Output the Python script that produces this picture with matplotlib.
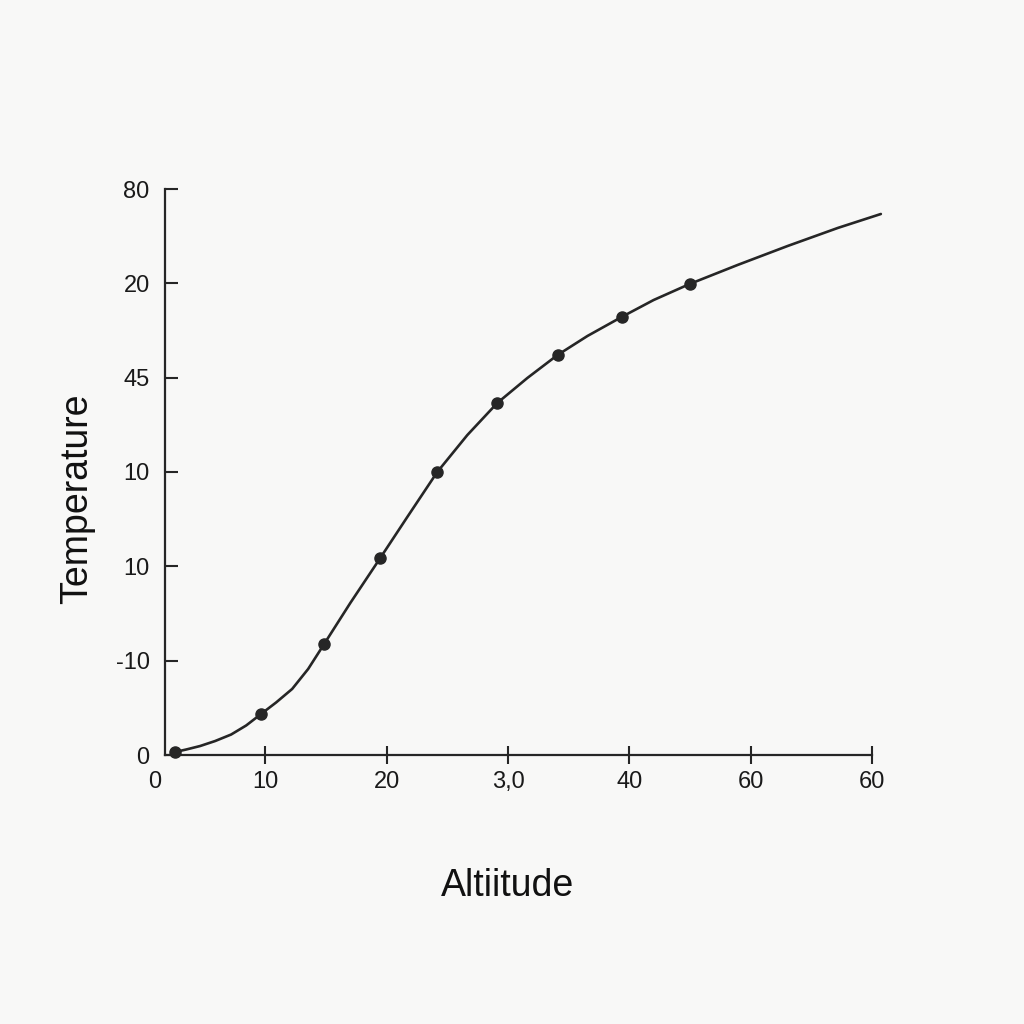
import matplotlib
matplotlib.use("Agg")
import matplotlib.pyplot as plt

plt.rcParams['font.family'] = ['Liberation Sans', 'DejaVu Sans']

# markers (altitude position, temperature position)
point_x = [2.56, 9.65, 14.85, 19.47, 24.17, 29.12, 34.08, 39.36, 44.97]
point_y = [0.03, 0.43, 1.18, 2.09, 3.00, 3.73, 4.24, 4.64, 4.99]

# the drawn curve
curve_x = [2.56, 3.47, 4.62, 5.86, 7.18, 8.42, 9.65, 10.89, 12.21, 13.53,
           14.85, 17.00, 19.47, 21.70, 24.17, 26.65, 29.12, 31.60, 34.08,
           36.55, 39.36, 42.00, 44.97, 48.93, 53.05, 57.18, 60.73]
curve_y = [0.032, 0.058, 0.095, 0.148, 0.217, 0.313, 0.435, 0.557, 0.700, 0.912,
           1.177, 1.611, 2.088, 2.523, 3.000, 3.392, 3.732, 3.997, 4.240,
           4.442, 4.643, 4.823, 4.993, 5.195, 5.396, 5.587, 5.735]

xtick_pos = [10, 20, 30, 40, 50, 60]
xtick_labels = ['10', '20', '3,0', '40', '60', '60']
ytick_pos = [0, 1, 2, 3, 4, 5, 6]
ytick_labels = ['0', '-10', '10', '10', '45', '20', '80']

ink = '#262626'
bg = '#f8f8f7'

fig = plt.figure(figsize=(10.24, 10.24), dpi=100, facecolor=bg)
ax = fig.add_axes([165 / 1024, 1 - 755 / 1024, 707 / 1024, 566 / 1024])
ax.set_facecolor(bg)

ax.plot(curve_x, curve_y, color=ink, lw=1.9, clip_on=False, zorder=3,
        solid_joinstyle='round', solid_capstyle='round')
ax.plot(point_x, point_y, 'o', color=ink, ms=8, clip_on=False, zorder=4)

ax.set_xlim(1.73, 60)
ax.set_ylim(0, 6)

for s in ['top', 'right']:
    ax.spines[s].set_visible(False)
for s in ['left', 'bottom']:
    ax.spines[s].set_linewidth(1.6)
    ax.spines[s].set_color(ink)

ax.set_xticks(xtick_pos)
ax.set_xticklabels(xtick_labels)
ax.set_yticks(ytick_pos)
ax.set_yticklabels(ytick_labels)
ax.tick_params(axis='x', direction='inout', length=13, width=1.5,
               color=ink, labelsize=17, labelcolor='#1a1a1a', pad=5)
ax.tick_params(axis='y', direction='in', length=9, width=1.5,
               color=ink, labelsize=17, labelcolor='#1a1a1a', pad=11)

# the lone "0" under the corner
fig.text(155 / 1024, 1 - 782 / 1024, '0', fontsize=17, color='#1a1a1a',
         ha='center', va='center')

fig.text(508 / 1024, 1 - 886 / 1024, 'Altiitude', fontsize=27,
         color='#111111', ha='center', va='center')
fig.text(77 / 1024, 1 - 499 / 1024, 'Temperature', fontsize=27,
         color='#111111', ha='center', va='center', rotation=90)

fig.savefig('out.png', dpi=100, facecolor=bg)
